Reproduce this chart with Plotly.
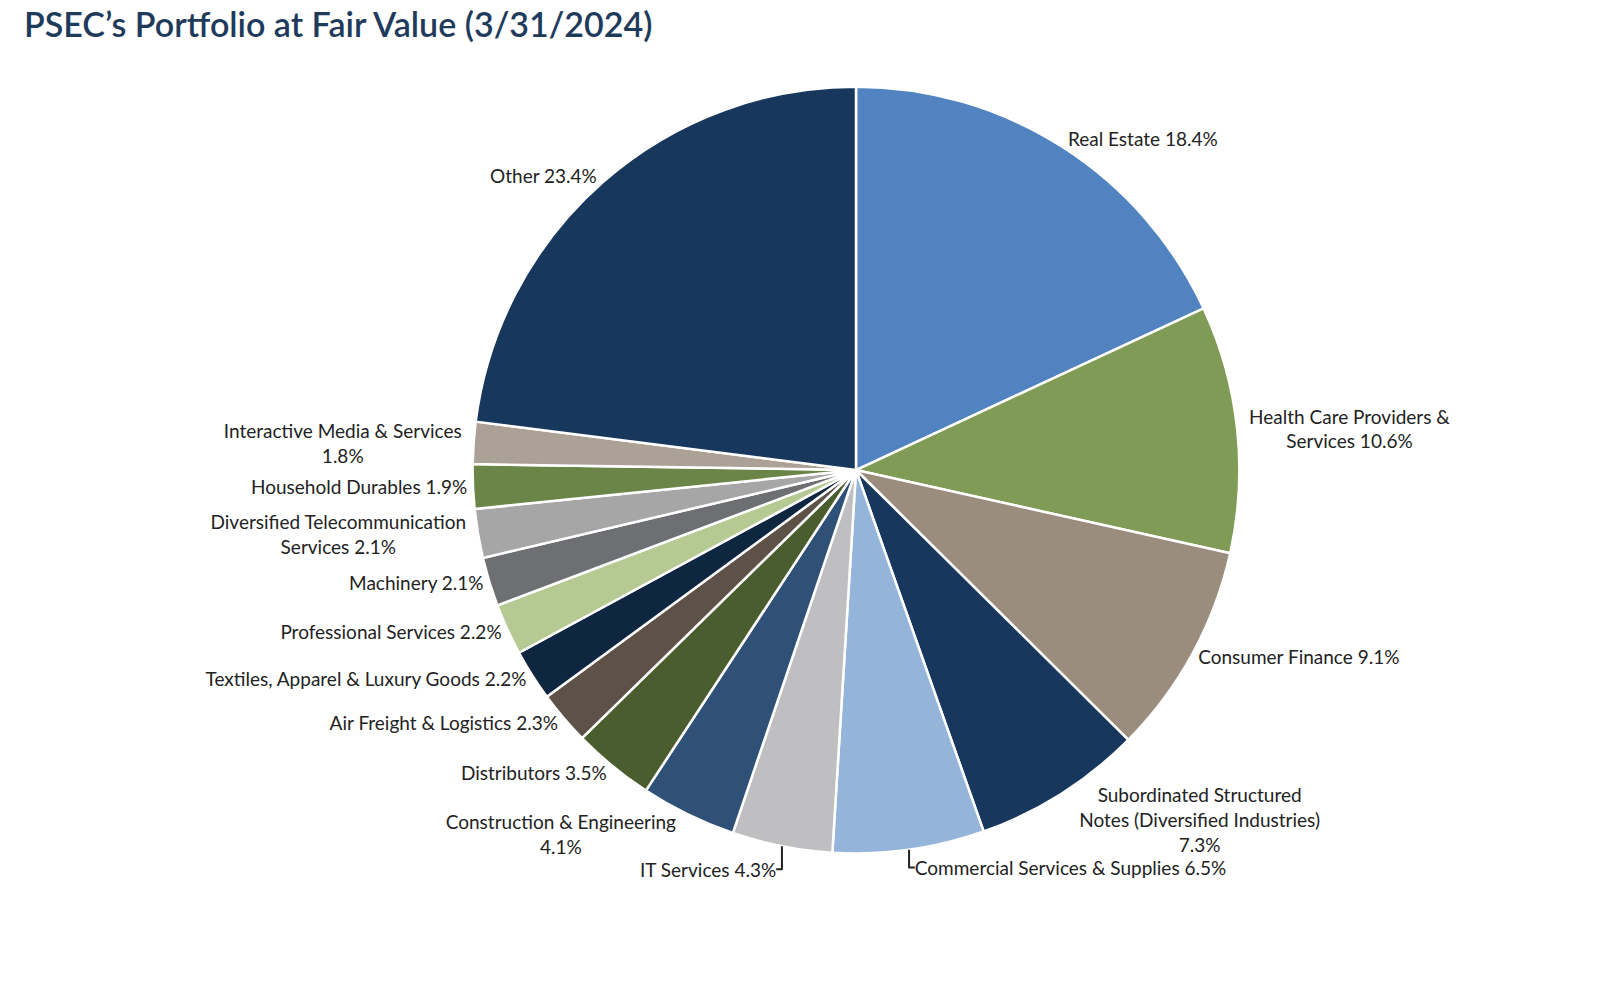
import plotly.graph_objects as go

labels = [
    "Real Estate", "Health Care Providers &<br>Services", "Consumer Finance",
    "Subordinated Structured<br>Notes (Diversified Industries)", "Commercial Services & Supplies",
    "IT Services", "Construction & Engineering", "Distributors", "Air Freight & Logistics",
    "Textiles, Apparel & Luxury Goods", "Professional Services", "Machinery",
    "Diversified Telecommunication<br>Services", "Household Durables",
    "Interactive Media & Services", "Other",
]
values = [18.4, 10.6, 9.1, 7.3, 6.5, 4.3, 4.1, 3.5, 2.3, 2.2, 2.2, 2.1, 2.1, 1.9, 1.8, 23.4]
pct_text = ["18.4%", "10.6%", "9.1%", "<br>7.3%", "6.5%", "4.3%", "<br>4.1%", "3.5%", "2.3%",
            "2.2%", "2.2%", "2.1%", "2.1%", "1.9%", "<br>1.8%", "23.4%"]
colors = ["#5283C1", "#7F9B55", "#9A8D7E", "#17375C", "#95B4D9", "#BFBFC1", "#2F5077",
          "#4A5D2E", "#5E5248", "#0F2640", "#B5C993", "#6E6F72", "#A6A6A6", "#6B8548",
          "#ABA196", "#17375C"]

texts = [f"{l} {p}" if not p.startswith("<br>") else f"{l}{p}" for l, p in zip(labels, pct_text)]

fig = go.Figure(go.Pie(
    labels=labels,
    values=values,
    text=texts,
    textinfo="text",
    textposition="outside",
    sort=False,
    direction="clockwise",
    rotation=0,
    marker=dict(colors=colors, line=dict(color="white", width=2.5)),
    textfont=dict(family="Lato", size=19, color="#222222"),
    hoverinfo="label+percent",
    domain=dict(x=[0.13, 0.93], y=[0.14, 0.92]),
    showlegend=False,
    automargin=False,
))

fig.update_layout(
    width=1600, height=983,
    paper_bgcolor="white",
    margin=dict(l=0, r=0, t=0, b=0),
    title=dict(
        text="PSEC’s Portfolio at Fair Value (3/31/2024)",
        x=0.01, y=0.995, xref="container", yref="container", xanchor="left", yanchor="top",
        font=dict(family="Lato", size=34, color="#1F3B5C", weight=600),
    ),
)

fig.write_html("out.html")
